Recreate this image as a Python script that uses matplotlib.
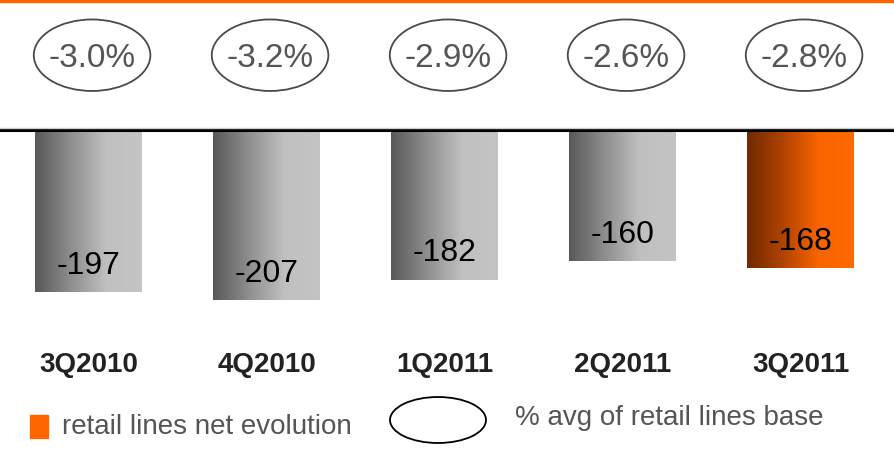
import matplotlib
matplotlib.use("Agg")
import matplotlib.pyplot as plt
import numpy as np
from matplotlib.colors import LinearSegmentedColormap
from matplotlib.patches import Ellipse, Rectangle
from matplotlib.lines import Line2D

plt.rcParams["font.family"] = ["Liberation Sans", "DejaVu Sans"]

quarters = ["3Q2010", "4Q2010", "1Q2011", "2Q2011", "3Q2011"]
net_evolution = [-197, -207, -182, -160, -168]
pct_of_base = ["-3.0%", "-3.2%", "-2.9%", "-2.6%", "-2.8%"]
legend_bar = "retail lines net evolution"
legend_oval = "% avg of retail lines base"

W, H = 894, 471
fig = plt.figure(figsize=(W / 100, H / 100), dpi=100)

# bar area: value 0 sits at y=130px, -230 at y=319px
ax = fig.add_axes([0, 1 - 319 / H, 1, 189 / H])

grey = LinearSegmentedColormap.from_list("g", ["#585858", "#8e8e8e", "#c0c0c0", "#c4c4c4"])
orange = LinearSegmentedColormap.from_list("o", ["#702a00", "#b04300", "#f86400", "#ff6a00"])
grad = np.linspace(0, 1, 256).reshape(1, -1)

bw = 0.6
for i, v in enumerate(net_evolution):
    cm = orange if i == len(net_evolution) - 1 else grey
    ax.imshow(grad, extent=(i - bw / 2, i + bw / 2, v, 0), aspect="auto",
              cmap=cm, zorder=2, interpolation="bilinear")
    ax.text(i, v + 32, f"{v}", ha="center", va="center", fontsize=23,
            color="#000000", zorder=4)
    # oval with share of base
    ax.add_patch(Ellipse((i + 0.02, 91), 0.655, 87, facecolor="none",
                         edgecolor="#4a4a4a", lw=1.3, clip_on=False))
    ax.text(i + 0.02, 87, pct_of_base[i], ha="center", va="center", fontsize=24,
            color="#555555", clip_on=False)

ax.axhline(0, color="black", lw=2.2, zorder=5, clip_on=False)
ax.axhline(2.5, color="#cccccc", lw=1, zorder=5, clip_on=False)

ax.set_xlim((0 - 88.5) / 178, (W - 88.5) / 178)
ax.set_ylim(-230, 0)
ax.set_xticks(range(len(quarters)), quarters)
ax.tick_params(axis="x", length=0, pad=24, labelsize=20, labelcolor="#222222")
for t in ax.get_xticklabels():
    t.set_fontweight("bold")
ax.set_yticks([])
for s in ax.spines.values():
    s.set_visible(False)
ax.patch.set_alpha(0)

# top orange rule
fig.add_artist(Line2D([0, 1], [1 - 1.2 / H] * 2, color="#ff6600", lw=2.5))

# legend
fig.add_artist(Rectangle((30 / W, 1 - 438 / H), 18 / W, 23 / H,
                         transform=fig.transFigure, color="#ff6600"))
fig.text(62 / W, 1 - 427 / H, legend_bar, ha="left", va="center",
         fontsize=20, color="#555555")
fig.add_artist(Ellipse((438 / W, 1 - 420 / H), 96 / W, 46 / H,
                       transform=fig.transFigure, facecolor="none",
                       edgecolor="black", lw=1.3))
fig.text(515 / W, 1 - 418 / H, legend_oval, ha="left", va="center",
         fontsize=20, color="#555555")

fig.savefig("out.png", dpi=100)
